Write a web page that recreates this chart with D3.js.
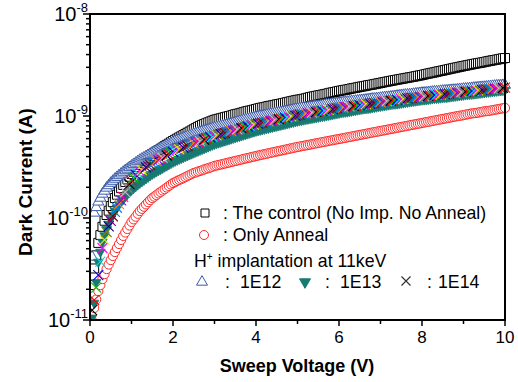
<!DOCTYPE html>
<html>
<head>
<meta charset="utf-8">
<script src="https://cdn.jsdelivr.net/npm/d3@7"></script>
<style>
  body { margin: 0; background: #fff; }
  text { font-family: Arial, "Liberation Sans", sans-serif; fill: #000; }
</style>
</head>
<body>
<div id="chart"></div>
<script>
// sweep voltage (V), 0.05 V steps
const voltage = [0.05,0.1,0.15,0.2,0.25,0.3,0.35,0.4,0.45,0.5,
  0.55,0.6,0.65,0.7,0.75,0.8,0.85,0.9,0.95,1.0,
  1.05,1.1,1.15,1.2,1.25,1.3,1.35,1.4,1.45,1.5,
  1.55,1.6,1.65,1.7,1.75,1.8,1.85,1.9,1.95,2.0,
  2.05,2.1,2.15,2.2,2.25,2.3,2.35,2.4,2.45,2.5,
  2.55,2.6,2.65,2.7,2.75,2.8,2.85,2.9,2.95,3.0,
  3.05,3.1,3.15,3.2,3.25,3.3,3.35,3.4,3.45,3.5,
  3.55,3.6,3.65,3.7,3.75,3.8,3.85,3.9,3.95,4.0,
  4.05,4.1,4.15,4.2,4.25,4.3,4.35,4.4,4.45,4.5,
  4.55,4.6,4.65,4.7,4.75,4.8,4.85,4.9,4.95,5.0,
  5.05,5.1,5.15,5.2,5.25,5.3,5.35,5.4,5.45,5.5,
  5.55,5.6,5.65,5.7,5.75,5.8,5.85,5.9,5.95,6.0,
  6.05,6.1,6.15,6.2,6.25,6.3,6.35,6.4,6.45,6.5,
  6.55,6.6,6.65,6.7,6.75,6.8,6.85,6.9,6.95,7.0,
  7.05,7.1,7.15,7.2,7.25,7.3,7.35,7.4,7.45,7.5,
  7.55,7.6,7.65,7.7,7.75,7.8,7.85,7.9,7.95,8.0,
  8.05,8.1,8.15,8.2,8.25,8.3,8.35,8.4,8.45,8.5,
  8.55,8.6,8.65,8.7,8.75,8.8,8.85,8.9,8.95,9.0,
  9.05,9.1,9.15,9.2,9.25,9.3,9.35,9.4,9.45,9.5,
  9.55,9.6,9.65,9.7,9.75,9.8,9.85,9.9,9.95,10.0];

// dark current, in units of 1e-10 A
const unit = 1e-10;
const control = [0.22,0.32,0.43,0.57,0.68,0.82,0.94,1.07,1.18,1.31,
  1.43,1.57,1.69,1.82,1.96,2.11,2.25,2.39,2.54,2.70,
  2.84,2.99,3.15,3.31,3.45,3.60,3.75,3.90,4.07,4.24,
  4.36,4.49,4.63,4.77,4.91,5.06,5.21,5.36,5.52,5.69,
  5.84,6.00,6.16,6.32,6.49,6.67,6.85,7.03,7.22,7.41,
  7.61,7.82,8.00,8.18,8.33,8.49,8.66,8.83,8.99,9.16,
  9.27,9.39,9.50,9.62,9.74,9.86,9.98,10.1,10.25,10.4,
  10.5,10.6,10.75,10.9,11.05,11.2,11.3,11.4,11.55,11.7,
  11.85,12.0,12.1,12.2,12.35,12.5,12.6,12.7,12.85,13.0,
  13.1,13.2,13.35,13.5,13.65,13.8,13.95,14.1,14.25,14.4,
  14.5,14.6,14.75,14.9,15.1,15.3,15.45,15.6,15.75,15.9,
  16.05,16.2,16.35,16.5,16.7,16.9,17.05,17.2,17.4,17.6,
  17.75,17.9,18.05,18.2,18.4,18.6,18.75,18.9,19.1,19.3,
  19.45,19.6,19.8,20.0,20.15,20.3,20.5,20.7,20.9,21.1,
  21.3,21.5,21.7,21.9,22.1,22.3,22.5,22.7,22.9,23.1,
  23.3,23.5,23.7,23.9,24.1,24.3,24.55,24.8,25.0,25.2,
  25.5,25.8,26.05,26.3,26.55,26.8,27.1,27.4,27.65,27.9,
  28.2,28.5,28.8,29.1,29.4,29.7,30.0,30.3,30.6,30.9,
  31.2,31.5,31.8,32.1,32.4,32.7,32.95,33.2,33.5,33.8,
  34.15,34.5,34.8,35.1,35.4,35.7,36.05,36.4,36.7,37.0];
const anneal = [0.098,0.131,0.159,0.192,0.220,0.252,0.282,0.316,0.350,0.387,
  0.424,0.464,0.508,0.556,0.609,0.667,0.721,0.780,0.844,0.914,
  0.970,1.03,1.10,1.17,1.23,1.29,1.36,1.43,1.50,1.57,
  1.62,1.68,1.74,1.80,1.86,1.92,1.99,2.06,2.13,2.20,
  2.25,2.31,2.36,2.41,2.46,2.52,2.58,2.64,2.70,2.76,
  2.80,2.85,2.89,2.94,2.99,3.04,3.08,3.13,3.18,3.24,
  3.27,3.31,3.34,3.38,3.42,3.46,3.50,3.54,3.58,3.62,
  3.66,3.70,3.74,3.79,3.83,3.87,3.91,3.96,4.00,4.05,
  4.09,4.14,4.18,4.22,4.26,4.31,4.35,4.40,4.44,4.49,
  4.53,4.58,4.62,4.67,4.72,4.77,4.82,4.87,4.92,4.97,
  5.01,5.06,5.10,5.15,5.19,5.24,5.29,5.34,5.39,5.44,
  5.49,5.54,5.59,5.64,5.69,5.74,5.79,5.85,5.90,5.95,
  6.00,6.06,6.11,6.17,6.22,6.28,6.34,6.40,6.45,6.51,
  6.57,6.63,6.69,6.75,6.81,6.88,6.94,7.00,7.06,7.13,
  7.19,7.26,7.32,7.39,7.45,7.52,7.59,7.66,7.73,7.80,
  7.87,7.94,8.01,8.09,8.16,8.24,8.31,8.39,8.46,8.54,
  8.62,8.70,8.77,8.85,8.93,9.02,9.10,9.18,9.26,9.35,
  9.43,9.51,9.60,9.69,9.78,9.87,9.96,10.05,10.1,10.2,
  10.3,10.4,10.5,10.6,10.65,10.7,10.8,10.9,11.0,11.1,
  11.15,11.2,11.3,11.4,11.5,11.6,11.7,11.8,11.9,12.0];
const dose1e12 = [0.415,1.12,1.27,1.44,1.57,1.72,1.84,1.97,2.08,2.20,
  2.30,2.41,2.51,2.61,2.71,2.82,2.92,3.02,3.13,3.24,
  3.35,3.46,3.58,3.70,3.80,3.90,4.01,4.12,4.23,4.34,
  4.45,4.56,4.67,4.79,4.91,5.03,5.16,5.29,5.42,5.56,
  5.66,5.77,5.87,5.98,6.08,6.19,6.29,6.39,6.51,6.63,
  6.74,6.86,6.95,7.05,7.14,7.24,7.33,7.43,7.52,7.62,
  7.71,7.81,7.91,8.01,8.11,8.21,8.31,8.42,8.52,8.63,
  8.74,8.85,8.96,9.07,9.18,9.30,9.41,9.53,9.65,9.77,
  9.86,9.95,10.0,10.1,10.2,10.3,10.4,10.5,10.6,10.7,
  10.8,10.9,11.0,11.1,11.2,11.3,11.4,11.5,11.6,11.7,
  11.8,11.9,11.95,12.0,12.1,12.2,12.3,12.4,12.45,12.5,
  12.6,12.7,12.8,12.9,12.95,13.0,13.1,13.2,13.3,13.4,
  13.5,13.6,13.65,13.7,13.8,13.9,13.95,14.0,14.1,14.2,
  14.25,14.3,14.4,14.5,14.6,14.7,14.75,14.8,14.9,15.0,
  15.1,15.2,15.25,15.3,15.4,15.5,15.6,15.7,15.8,15.9,
  16.0,16.1,16.15,16.2,16.3,16.4,16.5,16.6,16.7,16.8,
  16.85,16.9,17.0,17.1,17.2,17.3,17.35,17.4,17.5,17.6,
  17.65,17.7,17.8,17.9,17.95,18.0,18.1,18.2,18.3,18.4,
  18.45,18.5,18.6,18.7,18.8,18.9,19.0,19.1,19.15,19.2,
  19.3,19.4,19.5,19.6,19.7,19.8,19.85,19.9,20.0,20.1];
const dose1e13 = [0.105,0.147,0.234,0.371,0.465,0.582,0.674,0.780,0.873,0.977,
  1.07,1.17,1.26,1.36,1.44,1.53,1.62,1.71,1.79,1.88,
  1.96,2.04,2.12,2.20,2.28,2.36,2.44,2.52,2.61,2.70,
  2.77,2.85,2.93,3.01,3.09,3.18,3.26,3.35,3.44,3.54,
  3.62,3.70,3.78,3.86,3.94,4.02,4.10,4.19,4.27,4.36,
  4.45,4.54,4.63,4.72,4.81,4.90,5.00,5.11,5.21,5.31,
  5.39,5.47,5.55,5.64,5.72,5.81,5.89,5.98,6.07,6.16,
  6.25,6.34,6.43,6.53,6.62,6.72,6.82,6.92,7.02,7.13,
  7.21,7.29,7.37,7.46,7.54,7.62,7.71,7.80,7.89,7.98,
  8.07,8.16,8.25,8.35,8.44,8.54,8.64,8.74,8.83,8.93,
  9.01,9.10,9.18,9.27,9.35,9.44,9.52,9.60,9.69,9.78,
  9.86,9.95,10.0,10.1,10.2,10.3,10.4,10.5,10.6,10.7,
  10.8,10.9,10.95,11.0,11.1,11.2,11.3,11.4,11.5,11.6,
  11.7,11.8,11.85,11.9,12.0,12.1,12.2,12.3,12.4,12.5,
  12.6,12.7,12.8,12.9,13.0,13.1,13.15,13.2,13.3,13.4,
  13.5,13.6,13.7,13.8,13.9,14.0,14.1,14.2,14.3,14.4,
  14.45,14.5,14.6,14.7,14.8,14.9,14.95,15.0,15.1,15.2,
  15.25,15.3,15.4,15.5,15.6,15.7,15.8,15.9,16.0,16.1,
  16.2,16.3,16.35,16.4,16.5,16.6,16.7,16.8,16.9,17.0,
  17.1,17.2,17.3,17.4,17.5,17.6,17.7,17.8,17.9,18.0];
const dose1e14 = [0.125,0.157,0.208,0.276,0.374,0.508,0.609,0.729,0.826,0.935,
  1.04,1.15,1.26,1.37,1.49,1.61,1.79,1.98,2.15,2.33,
  2.49,2.65,2.75,2.86,2.94,3.03,3.13,3.23,3.32,3.42,
  3.51,3.61,3.70,3.79,3.89,4.00,4.10,4.21,4.32,4.44,
  4.53,4.62,4.71,4.80,4.89,4.99,5.08,5.18,5.28,5.38,
  5.48,5.58,5.67,5.77,5.86,5.96,6.06,6.16,6.26,6.36,
  6.45,6.54,6.63,6.72,6.81,6.91,7.00,7.09,7.19,7.29,
  7.39,7.49,7.59,7.70,7.80,7.90,8.01,8.12,8.23,8.35,
  8.43,8.52,8.61,8.70,8.78,8.87,8.96,9.05,9.14,9.24,
  9.33,9.43,9.53,9.63,9.72,9.81,9.90,10.0,10.1,10.2,
  10.3,10.4,10.5,10.6,10.65,10.7,10.8,10.9,11.0,11.1,
  11.15,11.2,11.3,11.4,11.5,11.6,11.7,11.8,11.9,12.0,
  12.05,12.1,12.2,12.3,12.4,12.5,12.55,12.6,12.7,12.8,
  12.9,13.0,13.1,13.2,13.25,13.3,13.4,13.5,13.6,13.7,
  13.8,13.9,14.0,14.1,14.15,14.2,14.3,14.4,14.5,14.6,
  14.7,14.8,14.9,15.0,15.05,15.1,15.2,15.3,15.4,15.5,
  15.6,15.7,15.75,15.8,15.9,16.0,16.1,16.2,16.25,16.3,
  16.4,16.5,16.6,16.7,16.75,16.8,16.9,17.0,17.1,17.2,
  17.3,17.4,17.45,17.5,17.6,17.7,17.8,17.9,18.0,18.1,
  18.2,18.3,18.4,18.5,18.55,18.6,18.7,18.8,18.9,19.0];

// colour cycle used for the 1E14 points
const pointColors = ["#000000","#ff0000","#00c000","#0000ff","#00e0e0","#ff00ff","#e8e800","#808000",
  "#000080","#800080","#800000","#008080","#0080ff","#ff8000","#8000ff","#ff0080","#c0c0c0","#808080"];

const xTicks = [0, 2, 4, 6, 8, 10];
const yTicks = [1e-11, 1e-10, 1e-9, 1e-8];
const doseLabels = ["1E12", "1E13", "1E14"];

(function(){

    const width = 518, height = 382;
    const m = { left: 90, right: 505, top: 14, bottom: 320 };

    const svg = d3.select("#chart").append("svg")
        .attr("width", width).attr("height", height);

    const x = d3.scaleLinear().domain([0, 10]).range([m.left, m.right]);
    const y = d3.scaleLog().domain([1e-11, 1e-8]).range([m.bottom, m.top]);

    // marker shapes
    function squarePath(s) { const h = s / 2; return `M${-h},${-h}H${h}V${h}H${-h}Z`; }
    function triPath(s, down) {
        const h = s * Math.sqrt(3) / 2, k = down ? -1 : 1;
        return `M0,${-k * h * 2 / 3}L${s / 2},${k * h / 3}L${-s / 2},${k * h / 3}Z`;
    }
    function xPath(s) { const h = s / 2; return `M${-h},${-h}L${h},${h}M${-h},${h}L${h},${-h}`; }

    svg.append("clipPath").attr("id", "plotclip")
        .append("rect").attr("x", m.left).attr("y", m.top - 6)
        .attr("width", m.right - m.left + 6).attr("height", m.bottom - m.top + 6);

    const plot = svg.append("g").attr("clip-path", "url(#plotclip)");

    function pts(arr) { return voltage.map((v, i) => ({ v: v, c: arr[i] * unit, i: i })); }

    // control: open squares
    plot.append("g").selectAll("path").data(pts(control)).enter().append("path")
        .attr("transform", d => `translate(${x(d.v)},${y(d.c)})`)
        .attr("d", squarePath(9))
        .attr("fill", "#fff").attr("stroke", "#000").attr("stroke-width", 1);

    // only anneal: open circles
    plot.append("g").selectAll("circle").data(pts(anneal)).enter().append("circle")
        .attr("cx", d => x(d.v)).attr("cy", d => y(d.c)).attr("r", 4.6)
        .attr("fill", "#fff").attr("stroke", "#ff2a2a").attr("stroke-width", 1);

    // 1E12: open triangles
    plot.append("g").selectAll("path").data(pts(dose1e12)).enter().append("path")
        .attr("transform", d => `translate(${x(d.v)},${y(d.c)})`)
        .attr("d", triPath(11, false))
        .attr("fill", "#fff").attr("stroke", "#3a5aaa").attr("stroke-width", 1);

    // 1E13: filled down triangles
    plot.append("g").selectAll("path").data(pts(dose1e13)).enter().append("path")
        .attr("transform", d => `translate(${x(d.v)},${y(d.c)})`)
        .attr("d", triPath(9.5, true))
        .attr("fill", "#177a72").attr("stroke", "#177a72").attr("stroke-width", 0.8);

    // 1E14: crosses, colour per point
    plot.append("g").selectAll("path").data(pts(dose1e14)).enter().append("path")
        .attr("transform", d => `translate(${x(d.v)},${y(d.c)})`)
        .attr("d", xPath(10))
        .attr("fill", "none").attr("stroke", d => pointColors[d.i % pointColors.length])
        .attr("stroke-width", 1.1);

    // frame
    svg.append("rect").attr("x", m.left).attr("y", m.top)
        .attr("width", m.right - m.left).attr("height", m.bottom - m.top)
        .attr("fill", "none").attr("stroke", "#000").attr("stroke-width", 2);

    // x axis ticks
    const xAxis = svg.append("g");
    xAxis.selectAll("line").data(d3.range(0, 11)).enter().append("line")
        .attr("x1", d => x(d)).attr("x2", d => x(d))
        .attr("y1", m.bottom).attr("y2", d => m.bottom + (d % 2 === 0 ? 6 : 4))
        .attr("stroke", "#000").attr("stroke-width", 1.5);
    xAxis.selectAll("text").data(xTicks).enter().append("text")
        .attr("x", d => x(d)).attr("y", 343).attr("text-anchor", "middle")
        .attr("font-size", 17).text(d => d);

    // y axis ticks (log)
    const yAxis = svg.append("g");
    const minor = [];
    yTicks.slice(0, 3).forEach(t => { for (let k = 2; k <= 9; k++) minor.push(t * k); });
    yAxis.selectAll("line.minor").data(minor).enter().append("line").attr("class", "minor")
        .attr("x1", m.left - 4).attr("x2", m.left).attr("y1", d => y(d)).attr("y2", d => y(d))
        .attr("stroke", "#000").attr("stroke-width", 1.5);
    yAxis.selectAll("line.major").data(yTicks).enter().append("line").attr("class", "major")
        .attr("x1", m.left - 7).attr("x2", m.left).attr("y1", d => y(d)).attr("y2", d => y(d))
        .attr("stroke", "#000").attr("stroke-width", 1.5);
    const ylab = yAxis.selectAll("text").data(yTicks).enter().append("text")
        .attr("x", m.left - 2).attr("y", d => y(d) + 7).attr("text-anchor", "end")
        .attr("font-size", 20);
    ylab.append("tspan").text("10");
    ylab.append("tspan").attr("dy", -9).attr("font-size", 13)
        .text(d => String(Math.round(Math.log10(d))));

    // axis titles
    svg.append("text").attr("x", 297).attr("y", 372).attr("text-anchor", "middle")
        .attr("font-size", 18).attr("font-weight", "bold").text("Sweep Voltage (V)");
    svg.append("text").attr("transform", "translate(32,182) rotate(-90)")
        .attr("text-anchor", "middle")
        .attr("font-size", 19).attr("font-weight", "bold").text("Dark Current (A)");

    // legend
    const fs = 17.7;
    const lg = svg.append("g");
    lg.append("path").attr("transform", "translate(205,213)").attr("d", squarePath(8))
        .attr("fill", "#fff").attr("stroke", "#000").attr("stroke-width", 1);
    lg.append("text").attr("x", 223).attr("y", 219).attr("font-size", fs)
        .text(": The control (No Imp. No Anneal)");
    lg.append("circle").attr("cx", 204).attr("cy", 235).attr("r", 4.5)
        .attr("fill", "#fff").attr("stroke", "#ff2a2a").attr("stroke-width", 1);
    lg.append("text").attr("x", 223).attr("y", 241).attr("font-size", fs).text(": Only Anneal");
    const ht = lg.append("text").attr("x", 194).attr("y", 267).attr("font-size", fs);
    ht.append("tspan").text("H");
    ht.append("tspan").attr("dy", -7).attr("font-size", 10).text("+");
    ht.append("tspan").attr("dy", 7).text(" implantation at 11keV");

    const legendX = [202, 305, 406];
    const colonX = [225, 325, 427];
    const labelX = [240, 340, 438];
    lg.append("path").attr("transform", `translate(${legendX[0]},282)`).attr("d", triPath(11, false))
        .attr("fill", "#fff").attr("stroke", "#3a5aaa").attr("stroke-width", 1);
    lg.append("path").attr("transform", `translate(${legendX[1]},282)`).attr("d", triPath(11, true))
        .attr("fill", "#177a72").attr("stroke", "#177a72");
    lg.append("path").attr("transform", `translate(${legendX[2]},281)`).attr("d", xPath(9))
        .attr("fill", "none").attr("stroke", "#333").attr("stroke-width", 1.2);
    lg.selectAll("text.colon").data(doseLabels).enter().append("text").attr("class", "colon")
        .attr("x", (d, i) => colonX[i]).attr("y", 288).attr("font-size", fs).text(":");
    lg.selectAll("text.dose").data(doseLabels).enter().append("text").attr("class", "dose")
        .attr("x", (d, i) => labelX[i]).attr("y", 288).attr("font-size", fs).text(d => d);

})();
</script>
</body>
</html>
